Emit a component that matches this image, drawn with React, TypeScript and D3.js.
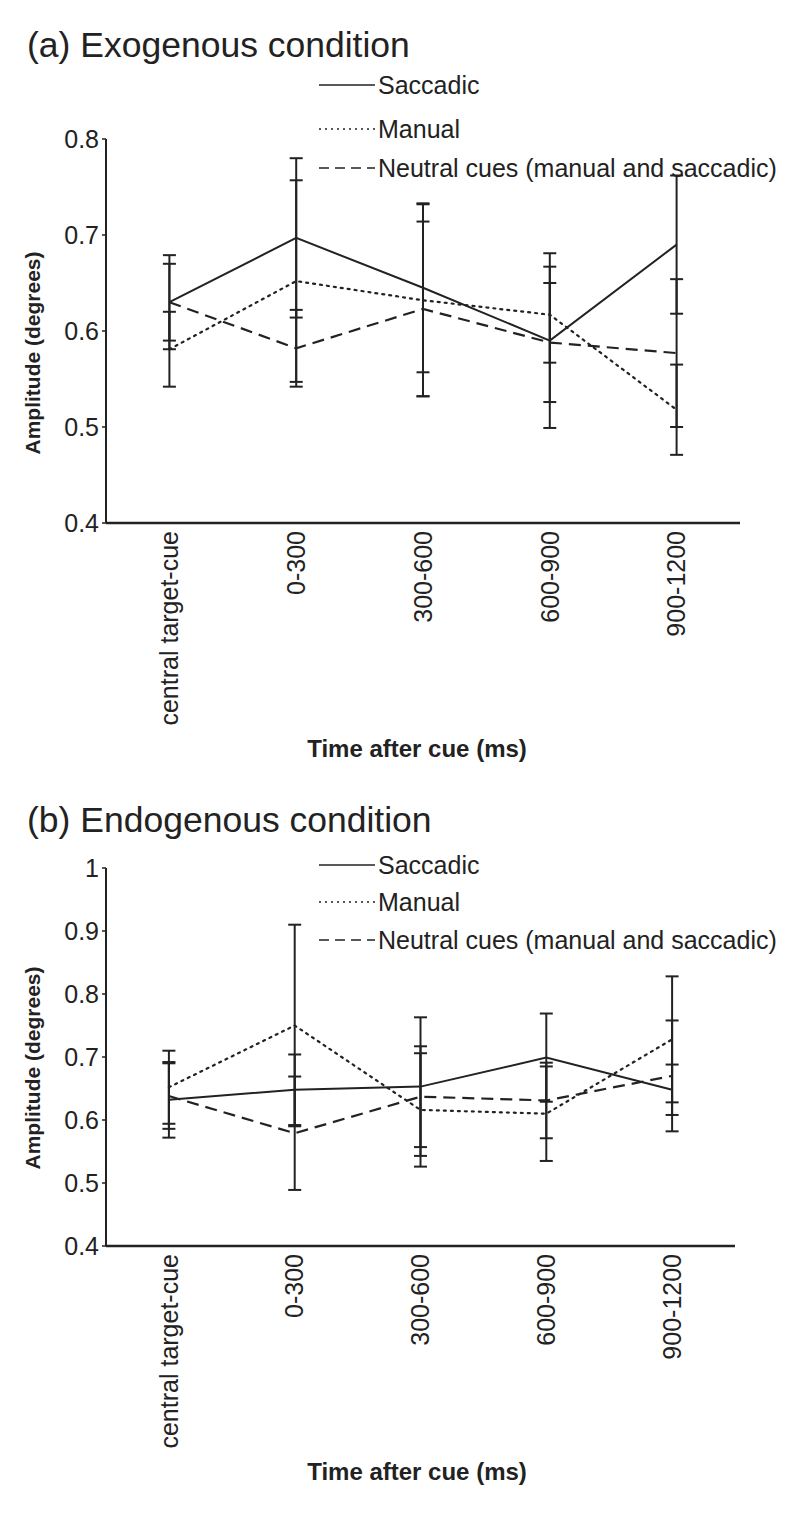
import React from "react";
import * as d3 from "d3";

const categories = ["central target-cue", "0-300", "300-600", "600-900", "900-1200"];
const seriesNames = ["Saccadic", "Manual", "Neutral cues (manual and saccadic)"];

// (a) Exogenous condition
const exoSaccadic = [0.63, 0.697, 0.645, 0.59, 0.69];
const exoSaccadicErr = [0.049, 0.083, 0.088, 0.091, 0.072];
const exoManual = [0.581, 0.652, 0.632, 0.617, 0.518];
const exoManualErr = [0.039, 0.105, 0.1, 0.05, 0.047];
const exoNeutral = [0.63, 0.582, 0.623, 0.588, 0.577];
const exoNeutralErr = [0.04, 0.04, 0.091, 0.062, 0.077];
const exoTicks = [0.4, 0.5, 0.6, 0.7, 0.8];

// (b) Endogenous condition
const endoSaccadic = [0.632, 0.648, 0.653, 0.699, 0.648];
const endoSaccadicErr = [0.06, 0.056, 0.11, 0.07, 0.04];
const endoManual = [0.652, 0.75, 0.616, 0.61, 0.728];
const endoManualErr = [0.058, 0.16, 0.09, 0.075, 0.1];
const endoNeutral = [0.638, 0.579, 0.637, 0.631, 0.67];
const endoNeutralErr = [0.052, 0.09, 0.08, 0.06, 0.088];
const endoTicks = [0.4, 0.5, 0.6, 0.7, 0.8, 0.9, 1];

const FONT = "'Liberation Sans', Arial, Helvetica, sans-serif";
const INK = "#222";
const dashes = [null, "2 5", "12 7"];

type PanelProps = {
  title: string;
  top: number;
  yTop: number;
  yBottom: number;
  ticks: number[];
  values: number[][];
  errs: number[][];
  legendYs: number[];
  xRight: number;
  yTitleShift: number;
};

function Panel({ title, top, yTop, yBottom, ticks, values, errs, legendYs, xRight, yTitleShift }: PanelProps) {
  const x = d3.scaleBand<string>().domain(categories).range([106, xRight]).padding(0);
  const cx = (c: string) => (x(c) as number) + x.bandwidth() / 2;
  const y = d3.scaleLinear().domain([ticks[0], ticks[ticks.length - 1]]).range([yBottom, yTop]);
  const line = d3
    .line<number>()
    .x((_, i) => cx(categories[i]))
    .y((v) => y(v));
  const fmt = (v: number) => String(+v.toFixed(1));
  return (
    <g>
      <text x={27} y={top} fontFamily={FONT} fontSize={35.5} fill={INK}>
        {title}
      </text>
      {/* legend */}
      {seriesNames.map((n, i) => (
        <g key={n}>
          <line
            x1={319}
            x2={375}
            y1={legendYs[i]}
            y2={legendYs[i]}
            stroke={INK}
            strokeWidth={1.6}
            strokeDasharray={i === 1 ? "2 4" : i === 2 ? "10 6" : undefined}
          />
          <text x={378} y={legendYs[i]} dy="0.35em" fontFamily={FONT} fontSize={25} fill={INK}>
            {n}
          </text>
        </g>
      ))}
      {/* axes */}
      <line x1={106} x2={106} y1={yTop} y2={yBottom} stroke={INK} strokeWidth={2} />
      <line x1={106} x2={xRight} y1={yBottom} y2={yBottom} stroke={INK} strokeWidth={2.5} />
      {ticks.map((t) => (
        <g key={t}>
          <line x1={102} x2={106} y1={y(t)} y2={y(t)} stroke={INK} strokeWidth={1.5} />
          <text x={99} y={y(t)} dy="0.35em" textAnchor="end" fontFamily={FONT} fontSize={25} fill={INK}>
            {fmt(t)}
          </text>
        </g>
      ))}
      <text
        transform={`translate(40,${(yTop + yBottom) / 2 + yTitleShift}) rotate(-90)`}
        textAnchor="middle"
        fontFamily={FONT}
        fontWeight="bold"
        fontSize={21}
        fill={INK}
      >
        Amplitude (degrees)
      </text>
      {categories.map((c) => (
        <text
          key={c}
          transform={`translate(${cx(c)},${yBottom + 8}) rotate(-90)`}
          textAnchor="end"
          dy="0.35em"
          fontFamily={FONT}
          fontSize={25}
          fill={INK}
        >
          {c}
        </text>
      ))}
      <text
        x={417}
        y={yBottom + 234}
        textAnchor="middle"
        fontFamily={FONT}
        fontWeight="bold"
        fontSize={24}
        fill={INK}
      >
        Time after cue (ms)
      </text>
      {/* error bars */}
      {values.map((vals, s) =>
        vals.map((v, i) => {
          const px = cx(categories[i]);
          const hi = y(v + errs[s][i]);
          const lo = y(v - errs[s][i]);
          return (
            <g key={`${s}-${i}`} stroke={INK} strokeWidth={2}>
              <line x1={px} x2={px} y1={hi} y2={lo} />
              <line x1={px - 6.5} x2={px + 6.5} y1={hi} y2={hi} />
              <line x1={px - 6.5} x2={px + 6.5} y1={lo} y2={lo} />
            </g>
          );
        })
      )}
      {/* series lines */}
      {values.map((vals, s) => (
        <path
          key={s}
          d={line(vals) as string}
          fill="none"
          stroke={INK}
          strokeWidth={s === 0 ? 2 : 2.2}
          strokeDasharray={dashes[s] ?? undefined}
          strokeLinecap={s === 1 ? "round" : "butt"}
        />
      ))}
    </g>
  );
}

export default function App() {
  return (
    <svg width={800} height={1514} style={{ display: "block", position: "absolute", left: 0, top: 0, background: "#fff" }}>
      <rect width={800} height={1514} fill="#fff" />
      <Panel
        title="(a) Exogenous condition"
        top={57}
        yTop={139}
        yBottom={523}
        ticks={exoTicks}
        values={[exoSaccadic, exoManual, exoNeutral]}
        errs={[exoSaccadicErr, exoManualErr, exoNeutralErr]}
        legendYs={[85, 129, 168]}
        xRight={740}
        yTitleShift={22}
      />
      <Panel
        title="(b) Endogenous condition"
        top={832}
        yTop={868}
        yBottom={1246}
        ticks={endoTicks}
        values={[endoSaccadic, endoManual, endoNeutral]}
        errs={[endoSaccadicErr, endoManualErr, endoNeutralErr]}
        legendYs={[865, 902, 940]}
        xRight={735}
        yTitleShift={11}
      />
    </svg>
  );
}
